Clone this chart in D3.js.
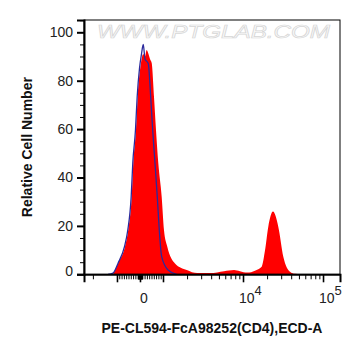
<!DOCTYPE html>
<html>
<head>
<meta charset="utf-8">
<script src="https://cdnjs.cloudflare.com/ajax/libs/d3/7.8.5/d3.min.js"></script>
<style>
  body { margin: 0; background: #fff; }
  svg { display: block; }
</style>
</head>
<body>
<div id="chart"></div>
<script>
// CD4 stained sample (red, filled)
var redX = [-1122, -943, -652, -509, -361, -291, -174, -100, 43, 143, 217, 291, 370, 435,
            509, 609, 696, 796, 943, 1029, 1132, 1413, 1980, 2680, 3870, 5790, 7720, 9170,
            11300, 14100, 17100, 18800, 20700, 23700, 27600, 31900, 38700, 44700, 51600];
var redY = [0, 4.7, 11.4, 18.3, 32, 45.9, 59.6, 73.4, 87.2, 91, 90, 92.7, 91, 89,
            87.3, 73.4, 59.6, 46, 32, 18.3, 11.4, 4.5, 1.8, 0.5, 0.5, 1.3, 1.8, 1.3,
            0.7, 1.5, 3.1, 9.7, 19.7, 25.9, 19.7, 7.3, 1.1, 0.2, 0];

// isotype control (blue, outline)
var blueX = [-1296, -1122, -957, -674, -530, -383, -313, -196, -122, -22, 65, 143, 217,
             361, 465, 552, 652, 752, 839, 943, 1155, 1483];
var blueY = [0, 0.5, 4.5, 11.4, 18.3, 32, 46, 59.6, 73.4, 85, 91, 95, 89,
             87, 73.4, 59.6, 46, 32, 18.3, 7.3, 1.8, 0];

var yTicks = [0, 20, 40, 60, 80, 100];
var yMinorTicks = [5, 10, 15, 25, 30, 35, 45, 50, 55, 65, 70, 75, 85, 90, 95, 105];
var xMajorTicks = [-1000, 0, 1000, 10000, 100000];
var xMinorTicks = [-2000]
    .concat(d3.range(-900, 0, 100), d3.range(-90, 0, 10), d3.range(10, 100, 10),
            d3.range(100, 1000, 100), d3.range(2000, 10000, 1000), d3.range(20000, 100000, 10000));
var xLabelValues = [0, 10000, 100000];
var xLabelBase = ["0", "10", "10"];
var xLabelExp = ["", "4", "5"];

var w = 361, h = 356;
var pLeft = 84, pRight = 340, pTop = 20, pBottom = 274.3;

// biexponential-like display: linear near zero, log above 1000
var linW = 1000, linD = 0.2875;
function biex(v) {
    var a = Math.abs(v), s = v < 0 ? -1 : 1;
    if (a <= linW) return s * linD * a / linW;
    return s * (linD + Math.log10(a / linW));
}

var x = d3.scaleLinear()
    .domain([biex(-2583), biex(163000)])
    .range([pLeft, pRight]);
var y = d3.scaleLinear()
    .domain([0, 105.08])
    .range([pBottom, pTop]);

function px(v) { return x(biex(v)); }

var svg = d3.select("#chart")
    .append("svg")
    .attr("width", w)
    .attr("height", h)
    .style("font-family", "'Liberation Sans', Arial, sans-serif");

svg.append("defs").append("clipPath")
    .attr("id", "plot")
    .append("rect")
    .attr("x", pLeft)
    .attr("y", pTop)
    .attr("width", pRight - pLeft)
    .attr("height", pBottom - pTop);

// watermark
svg.append("text")
    .attr("x", 97)
    .attr("y", 38)
    .attr("textLength", 233)
    .attr("lengthAdjust", "spacingAndGlyphs")
    .attr("font-size", "19px")
    .attr("font-style", "italic")
    .attr("fill", "#fafafa")
    .attr("stroke", "#d6d6d6")
    .attr("stroke-width", 0.7)
    .text("WWW.PTGLAB.COM");

var g = svg.append("g").attr("clip-path", "url(#plot)");

var area = d3.area()
    .x(function(d) { return px(d[0]); })
    .y0(y(0))
    .y1(function(d) { return y(d[1]); })
    .curve(d3.curveMonotoneX);

var line = d3.line()
    .x(function(d) { return px(d[0]); })
    .y(function(d) { return y(d[1]); })
    .curve(d3.curveMonotoneX);

g.append("path")
    .datum(d3.zip(redX, redY))
    .attr("d", area)
    .attr("fill", "#ff0000");

g.append("path")
    .datum(d3.zip(blueX, blueY))
    .attr("d", line)
    .attr("fill", "none")
    .attr("stroke", "#2b2a9c")
    .attr("stroke-width", 1.3);

// frame
svg.append("rect")
    .attr("x", pLeft)
    .attr("y", pTop)
    .attr("width", pRight - pLeft)
    .attr("height", pBottom - pTop)
    .attr("fill", "none")
    .attr("stroke", "#000")
    .attr("stroke-width", 1);

// y axis
var yAxis = svg.append("g")
    .attr("transform", "translate(" + pLeft + ",0)")
    .call(d3.axisLeft(y).tickValues(yTicks).tickSize(7).tickPadding(4));
yAxis.select(".domain").attr("stroke-width", 2);
yAxis.selectAll(".tick line").attr("stroke-width", 2);
yAxis.selectAll(".tick text")
    .attr("font-size", "14px")
    .attr("font-family", "'Liberation Sans', Arial, sans-serif")
    .attr("fill", "#222")
    .attr("dy", function(d) { return d === 0 ? "0.05em" : "0.32em"; });

svg.append("g")
    .attr("transform", "translate(" + pLeft + ",0)")
    .call(d3.axisLeft(y).tickValues(yMinorTicks).tickSize(4).tickFormat(""))
    .select(".domain").remove();

// x axis
var xMajor = svg.append("g")
    .attr("transform", "translate(0," + pBottom + ")")
    .call(d3.axisBottom(x).tickValues(xMajorTicks.map(biex)).tickSize(8).tickFormat(""));
xMajor.select(".domain").attr("stroke-width", 2);
xMajor.selectAll(".tick line").attr("stroke-width", 1.6);

svg.append("g")
    .attr("transform", "translate(0," + pBottom + ")")
    .call(d3.axisBottom(x).tickValues(xMinorTicks.map(biex)).tickSize(5).tickFormat(""))
    .select(".domain").remove();

var xl = svg.append("g")
    .selectAll("text")
    .data(xLabelValues)
    .enter()
    .append("text")
    .attr("x", function(d, i) { return xLabelExp[i] ? px(d) - 4 : px(d) + 4; })
    .attr("y", pBottom + 29)
    .attr("text-anchor", function(d, i) { return xLabelExp[i] ? "start" : "middle"; })
    .attr("font-size", "14px")
    .attr("fill", "#222");
xl.append("tspan")
    .text(function(d, i) { return xLabelBase[i]; });
xl.append("tspan")
    .attr("dy", -8)
    .attr("font-size", "13px")
    .text(function(d, i) { return xLabelExp[i]; });

// titles
svg.append("text")
    .attr("x", (pLeft + pRight) / 2)
    .attr("y", 333)
    .attr("text-anchor", "middle")
    .attr("font-size", "14px")
    .attr("font-weight", "bold")
    .attr("fill", "#111")
    .text("PE-CL594-FcA98252(CD4),ECD-A");

svg.append("text")
    .attr("transform", "translate(32," + (pTop + pBottom) / 2 + ") rotate(-90)")
    .attr("text-anchor", "middle")
    .attr("font-size", "14px")
    .attr("font-weight", "bold")
    .attr("fill", "#111")
    .text("Relative Cell Number");
</script>
</body>
</html>
